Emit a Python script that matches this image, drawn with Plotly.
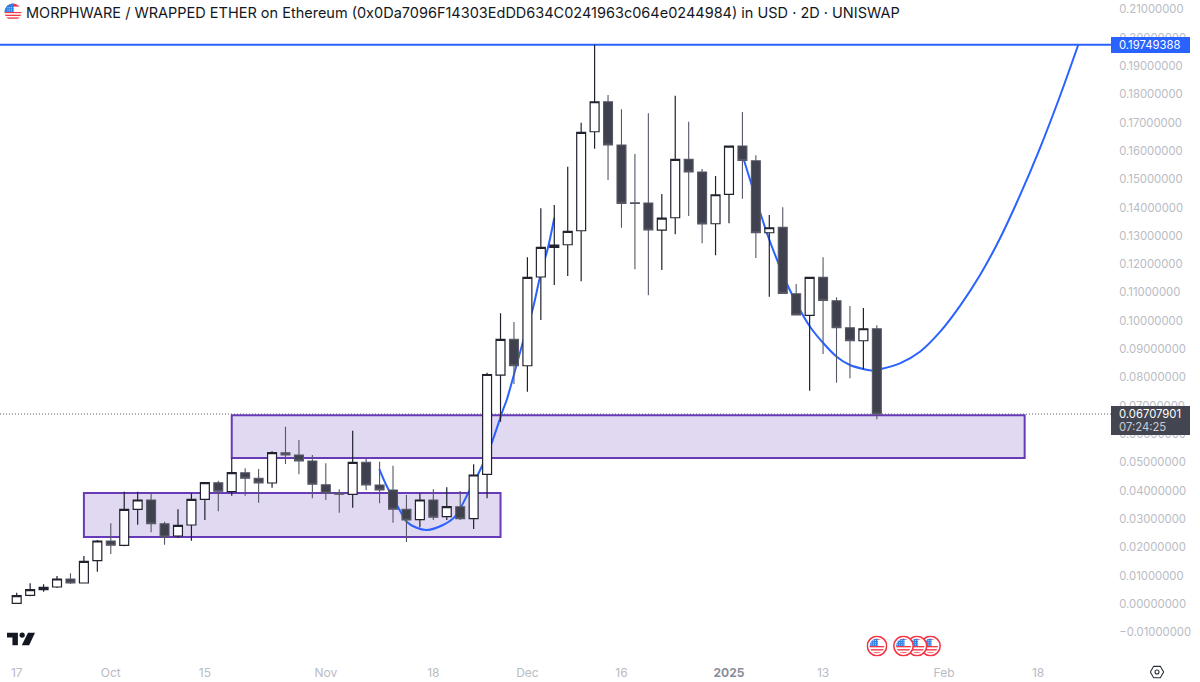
import base64
import plotly.graph_objects as go

# candles, 2D bars, index 0 = 17 Sep
opens = [.00025, .00307, .00505, .00600, .00883, .00742, .01529, .02225, .02073, .03344,
         .03672, .02835, .02401, .02790, .03697, .04283, .03965, .04636, .04439, .04273,
         .05343, .05261, .05049, .04212, .03909, .03874, .05004, .04202, .04025, .03344,
         .02977, .03672, .03083, .03436, .03012, .04580, .08086, .09347, .08414, .11547,
         .12595, .12687, .13181, .16677, .17737, .16208, .14170, .14160, .13206, .13641,
         .15703, .15254, .13429, .14467, .16172, .15653, .13111, .13301, .10957, .10194,
         .11536, .10710, .09756, .09297, .09721]
highs = [.00399, .00731, .00696, .00989, .01084, .01695, .02260, .02850, .03965, .03965,
         .03909, .02906, .03344, .03909, .04283, .04354, .05155, .04792, .04767, .05392,
         .06261, .05791, .05261, .04968, .04050, .06119, .05120, .05025, .04883, .03849,
         .03909, .04050, .04121, .03990, .04933, .08167, .10265, .09958, .12242, .13972,
         .14089, .15441, .16995, .19749, .17973, .17468, .15890, .17327, .14477, .17949,
         .17030, .15360, .15113, .16172, .17373, .15844, .13736, .14008, .11299, .11536,
         .12242, .10830, .10523, .10452, .09841]
lows = [.00025, .00272, .00434, .00565, .00706, .00742, .01141, .01766, .02037, .02800,
        .02532, .02094, .02331, .02235, .02966, .03273, .03824, .03824, .03577, .04107,
        .04944, .04580, .03732, .03672, .03224, .03400, .04025, .03556, .02871, .02189,
        .02708, .02966, .02966, .02966, .02648, .03732, .06437, .07768, .07497, .10028,
        .11264, .11582, .11395, .16077, .14972, .13288, .11818, .10900, .11794, .13054,
        .13701, .12737, .12313, .13443, .14311, .12218, .10851, .10971, .10205, .07532,
        .08828, .07814, .07970, .08287, .06522]
closes = [.00293, .00505, .00590, .00883, .00742, .01508, .02225, .02073, .03344, .03672,
          .02835, .02376, .02779, .03697, .04283, .03980, .04636, .04439, .04273, .05343,
          .05261, .05049, .04227, .03920, .03874, .05004, .04202, .04025, .03344, .02966,
          .03672, .03061, .03436, .03012, .04555, .08104, .09347, .08414, .11536, .12595,
          .12677, .13160, .16656, .17737, .16208, .14149, .14149, .13206, .13630, .15703,
          .15254, .13418, .14453, .16172, .15667, .13111, .13288, .10971, .10205, .11536,
          .10724, .09756, .09297, .09721, .06708]

# brush curves drawn on the chart
curve1_x = [26.98, 27.53, 28.37, 29.02, 29.71, 30.51, 31.72, 32.61, 33.60, 34.60, 35.34,
            36.18, 36.46, 37.57, 38.44, 38.94, 39.55, 40.0]
curve1_y = [.04767, .04167, .03425, .02906, .02701, .02613, .02790, .03083, .03920, .04848,
            .05685, .06850, .07203, .09086, .10498, .11557, .12617, .13630]
curve2_x = [54.11, 54.69, 55.38, 55.92, 56.67, 57.41, 58.41, 59.03, 60.01, 61.01, 62.0, 62.99,
            63.71, 64.23, 65.72, 67.21, 68.7, 70.19, 71.67, 73.16, 74.65, 76.14, 77.63, 78.99]
curve2_y = [.15678, .14795, .13736, .12970, .12041, .11204, .10275, .09792, .09216, .08733,
            .08439, .08298, .08238, .08287, .08499, .08909, .09609, .10529, .11609, .12909,
            .14430, .16100, .17940, .19749]

# levels and zones
target_price = 0.19749388
last_price = 0.06707901
countdown = "07:24:25"
zone1 = [5, 36, 0.02366, 0.0392]
zone2 = [16, 75, 0.05155, 0.0667]

y_ticks = [round(-0.01 + 0.01 * i, 2) for i in range(23)]
x_ticks = [0, 7, 14, 23, 31, 38, 45, 53, 60, 69, 76]
x_labels = ["17", "Oct", "15", "Nov", "18", "Dec", "16",
            '<span style="color:#8a8d98"><b>2025</b></span>', "13", "Feb", "18"]

title = ("MORPHWARE / WRAPPED ETHER on Ethereum (0x0Da7096F14303EdDD634C0241963c064e0244984)"
         " in USD · 2D · UNISWAP")

x_range = [-1.243, 81.35]
y_range = [-0.01801, 0.2133]
FONT = "Inter, 'Noto Sans', sans-serif"
GRAY = "#b8bbc4"
BLUE = "#2962ff"
PURPLE = "#673ab7"
LABEL_SIZE = 11.3


def svg_uri(svg):
    return "data:image/svg+xml;base64," + base64.b64encode(svg.encode()).decode()


def flag_svg(ring):
    stripes = "".join(
        f'<rect x="0" y="{y}" width="40" height="3" fill="{c}"/>'
        for y, c in [(20, "#f23645"), (23, "#ffffff"), (26, "#f23645"), (29, "#ffffff"), (32, "#f23645")])
    dots = "".join(f'<rect x="{x}" y="{y}" width="1.6" height="1.6" fill="#ffffff"/>'
                   for x in range(8, 21, 4) for y in range(9, 19, 4))
    outer = '<circle cx="20" cy="20" r="18.5" fill="#fff" stroke="#f23645" stroke-width="3"/>' if ring else ""
    r = 14 if ring else 19
    return (f'<svg xmlns="http://www.w3.org/2000/svg" viewBox="0 0 40 40">{outer}'
            f'<defs><clipPath id="c"><circle cx="20" cy="20" r="{r}"/></clipPath></defs>'
            f'<g clip-path="url(#c)"><rect width="40" height="40" fill="#ffffff"/>'
            f'<rect x="0" y="0" width="40" height="8" fill="#f23645"/>'
            f'{stripes}<rect x="0" y="0" width="22" height="20" fill="#2f7fe6"/>{dots}</g></svg>')


LOGO = ('<svg xmlns="http://www.w3.org/2000/svg" viewBox="0 0 36 18">'
        '<path fill="#131722" d="M0 1h14v16H7V7H0z"/><circle cx="19.5" cy="4" r="3.4" fill="#131722"/>'
        '<path fill="#131722" d="M27 1h9l-7.5 16H19z"/></svg>')
GEAR = ('<svg xmlns="http://www.w3.org/2000/svg" viewBox="0 0 18 18">'
        '<path fill="none" stroke="#2a2e39" stroke-width="1.3" d="M5 2.2h8L17 9l-4 6.8H5L1 9z"/>'
        '<circle cx="9" cy="9" r="2.4" fill="none" stroke="#2a2e39" stroke-width="1.3"/></svg>')


def image(svg, cx, cy, w, h):
    return dict(source=svg_uri(svg), xref="paper", yref="paper", x=cx / 1200, y=1 - cy / 682,
                sizex=w / 1200, sizey=h / 682, xanchor="center", yanchor="middle",
                sizing="stretch", layer="above")


def py(pixel):
    return 1 - pixel / 682


fig = go.Figure()

# curves go on the base axes so the candles on the overlay cover them
for cx, cy in [(curve1_x, curve1_y), (curve2_x, curve2_y)]:
    fig.add_trace(go.Scatter(x=cx, y=cy, mode="lines", hoverinfo="skip", showlegend=False,
                             line=dict(color=BLUE, width=2, shape="spline", smoothing=0.8)))

fig.add_trace(go.Candlestick(
    x=list(range(len(opens))), open=opens, high=highs, low=lows, close=closes,
    xaxis="x2", yaxis="y2", whiskerwidth=0, showlegend=False,
    increasing=dict(fillcolor="#ffffff", line=dict(color="#20232e", width=1.2)),
    decreasing=dict(fillcolor="#3f424e", line=dict(color="#565965", width=1.1)),
))

for z in [zone1, zone2]:
    fig.add_shape(type="rect", x0=z[0], x1=z[1], y0=z[2], y1=z[3], layer="below",
                  fillcolor="rgba(103,58,183,0.2)", line=dict(color=PURPLE, width=2))
fig.add_shape(type="line", xref="paper", x0=0, x1=1111 / 1200, y0=last_price, y1=last_price,
              layer="below", line=dict(color="#5d606b", width=1, dash="1px,2px"))
fig.add_shape(type="line", xref="paper", x0=0, x1=1111 / 1200, y0=target_price, y1=target_price,
              layer="below", line=dict(color=BLUE, width=2))

# price labels on the scale
fig.add_shape(type="rect", xref="paper", yref="paper", x0=1111 / 1200, x1=1190 / 1200,
              y0=py(53), y1=py(37), fillcolor=BLUE, line=dict(width=0), layer="above")
fig.add_shape(type="rect", xref="paper", yref="paper", x0=1111 / 1200, x1=1190 / 1200,
              y0=py(435), y1=py(406), fillcolor="#434651", line=dict(width=0), layer="above")
fig.add_annotation(xref="paper", x=1119 / 1200, y=target_price, xanchor="left", yanchor="middle",
                   text=f"{target_price:.8f}", showarrow=False, borderpad=0, borderwidth=0,
                   font=dict(family=FONT, size=LABEL_SIZE, color="#ffffff"))
fig.add_annotation(xref="paper", yref="paper", x=1119 / 1200, y=py(414), xanchor="left", yanchor="middle",
                   text=f"{last_price:.8f}", showarrow=False, borderpad=0, borderwidth=0,
                   font=dict(family=FONT, size=LABEL_SIZE, color="#ffffff"))
fig.add_annotation(xref="paper", yref="paper", x=1119 / 1200, y=py(427), xanchor="left", yanchor="middle",
                   text=countdown, showarrow=False, borderpad=0, borderwidth=0,
                   font=dict(family=FONT, size=LABEL_SIZE, color="#c9ccd4"))
fig.add_annotation(xref="paper", yref="paper", x=25 / 1200, y=py(13), xanchor="left",
                   yanchor="middle", text=title, showarrow=False, borderpad=0,
                   font=dict(family=FONT, size=14.5, color="#131722"))

fig.update_layout(
    width=1200, height=682, margin=dict(l=0, r=0, t=0, b=0, autoexpand=False), autosize=False,
    paper_bgcolor="#ffffff", plot_bgcolor="#ffffff", showlegend=False, boxgap=0.05,
    font=dict(family=FONT, size=12, color=GRAY), hovermode=False,
    xaxis=dict(domain=[0, 1110 / 1200], range=x_range, showgrid=False, zeroline=False,
               tickmode="array", tickvals=x_ticks, ticktext=x_labels, ticks="outside", ticklen=7,
               tickcolor="rgba(0,0,0,0)", showline=False, tickfont=dict(size=12, color=GRAY)),
    yaxis=dict(domain=[27 / 682, 1], range=y_range, side="right", showgrid=False, zeroline=False,
               tickmode="array", tickvals=y_ticks,
               ticktext=[f"{v:.8f}".replace("-", "−") for v in y_ticks],
               ticks="outside", ticklen=6, tickcolor="rgba(0,0,0,0)", showline=False,
               tickfont=dict(size=LABEL_SIZE, color=GRAY)),
    xaxis2=dict(overlaying="x", matches="x", visible=False, rangeslider=dict(visible=False)),
    yaxis2=dict(overlaying="y", matches="y", visible=False, side="right"),
    images=[image(flag_svg(False), 13, 12, 18, 18)]
    + [image(flag_svg(True), cx, 646, 21, 21) for cx in [930.5, 917, 903.5, 877]]
    + [image(LOGO, 21, 639, 28, 14), image(GEAR, 1157, 672, 15, 15)],
)

fig.write_html("out.html", config=dict(displayModeBar=False),
               post_script="document.body.style.margin='0';")
